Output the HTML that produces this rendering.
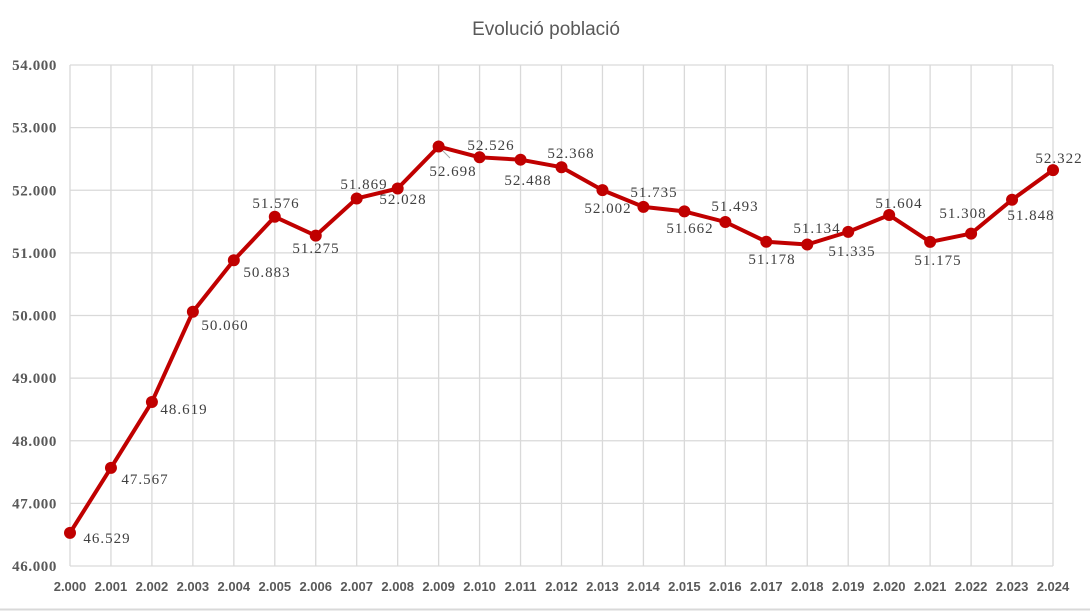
<!DOCTYPE html>
<html><head><meta charset="utf-8"><style>body{margin:0;background:#fff}svg{display:block}</style></head><body>
<svg width="1090" height="611" xmlns="http://www.w3.org/2000/svg">
<rect width="1090" height="611" fill="#fff"/>
<line x1="0" y1="609.5" x2="1090" y2="609.5" stroke="#d9d9d9" stroke-width="2"/>
<text x="546" y="35" text-anchor="middle" font-family="Liberation Sans, sans-serif" font-size="19" fill="#595959">Evolució població</text>
<g id="grid" stroke="#d9d9d9" stroke-width="1.3"></g>
<g id="yl" font-family="Liberation Serif, serif" font-weight="bold" font-size="15" letter-spacing="0.6" fill="#595959" text-anchor="end"></g>
<g id="xl" font-family="Liberation Sans, sans-serif" font-weight="bold" font-size="13" fill="#595959" text-anchor="middle"></g>
<line x1="438" y1="146" x2="450" y2="158" stroke="#a6a6a6" stroke-width="1"/>
<polyline id="ln" fill="none" stroke="#c00000" stroke-width="4" stroke-linejoin="round"/>
<g id="pts" fill="#c00000"></g>
<g id="dl" font-family="Liberation Serif, serif" font-size="15" letter-spacing="1" fill="#404040" text-anchor="middle"></g>
</svg>
<script>
var ns="http://www.w3.org/2000/svg";
function el(p,t,a,txt){var e=document.createElementNS(ns,t);for(var k in a)e.setAttribute(k,a[k]);if(txt)e.textContent=txt;document.getElementById(p).appendChild(e);return e;}
var X0=70,DX=(1053-70)/24,Y0=566,K=501/8000;
for(var i=0;i<=8;i++){var y=Y0-i*1000*K;el('grid','line',{x1:X0,x2:1053,y1:y,y2:y});el('yl','text',{x:57,y:y+5},(46+i)+'.000');}
for(var i=0;i<=24;i++){var x=X0+i*DX;el('grid','line',{x1:x,x2:x,y1:65,y2:566});el('xl','text',{x:x,y:591},'2.0'+(i<10?'0':'')+i);}
var v=[46529,47567,48619,50060,50883,51576,51275,51869,52028,52698,52526,52488,52368,52002,51735,51662,51493,51178,51134,51335,51604,51175,51308,51848,52322];
var L=[[107,543],[145,484],[184,414],[225,330],[267,277],[276,208],[316,253],[364,189],[403,204],[453,176],[491,150],[528,185],[571,158],[608,213],[654,197],[690,233],[735,211],[772,264],[817,233],[852,256],[899,208],[938,265],[963,218],[1031,220],[1059,163]];
var pts=[];
v.forEach(function(d,i){var x=X0+i*DX,y=Y0-(d-46000)*K;pts.push(x+','+y);el('pts','circle',{cx:x,cy:y,r:6});
el('dl','text',{x:L[i][0],y:L[i][1]},String(d).replace(/(\d\d)(\d\d\d)/,'$1.$2'));});
document.getElementById('ln').setAttribute('points',pts.join(' '));
</script>
</body></html>
